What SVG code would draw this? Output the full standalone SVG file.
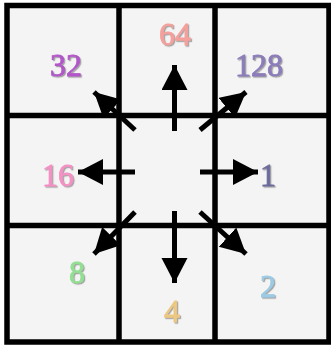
<svg xmlns="http://www.w3.org/2000/svg" width="331" height="345" viewBox="0 0 331 345">
<style>
.cell{fill:#f4f4f4;stroke:none}
.grid{stroke:#000;stroke-width:5.5;fill:none}
.lbl{font-family:"Liberation Serif","Times New Roman",serif;font-size:32px;text-anchor:middle;stroke-width:0.8;filter:url(#sh)}
.arr{stroke:#000;stroke-width:5;fill:none;marker-end:url(#ah)}
</style>
<defs>
<filter id="sh" x="-20%" y="-20%" width="150%" height="150%">
<feDropShadow dx="1.2" dy="1.2" stdDeviation="0.4" flood-color="#9a9a9a" flood-opacity="0.9"/>
</filter>
<marker id="ah" markerUnits="userSpaceOnUse" markerWidth="27" markerHeight="27" refX="25" refY="13" orient="auto" viewBox="0 0 27 27">
<path d="M0,0 L25,13 L0,26 Z" fill="#000"/>
</marker>
</defs>
<rect x="0" y="0" width="331" height="345" fill="#ffffff"/>
<rect class="cell" x="7" y="5" width="322" height="337"/>
<g id="n32"><text class="lbl" x="66" y="76" fill="#b356c9" stroke="#b356c9">32</text></g>
<g id="n64"><text class="lbl" x="175" y="45" fill="#f4a09c" stroke="#f4a09c">64</text></g>
<g id="n128"><text class="lbl" x="259" y="76" fill="#8c7cba" stroke="#8c7cba">128</text></g>
<g id="n16"><text class="lbl" x="58" y="186" fill="#f490c4" stroke="#f490c4">16</text></g>
<g id="center"></g>
<g id="n1"><text class="lbl" x="268" y="186" fill="#6c6c9c" stroke="#6c6c9c">1</text></g>
<g id="n8"><text class="lbl" x="77" y="283" fill="#92e092" stroke="#92e092">8</text></g>
<g id="n4"><text class="lbl" x="172" y="322" fill="#ecc882" stroke="#ecc882">4</text></g>
<g id="n2"><text class="lbl" x="268" y="297" fill="#9ccbe4" stroke="#9ccbe4">2</text></g>
<g id="gridlines">
<rect class="grid" x="7" y="5.5" width="322" height="336.5"/>
<line class="grid" x1="119" y1="5" x2="119" y2="342"/>
<line class="grid" x1="215" y1="5" x2="215" y2="342"/>
<line class="grid" x1="7" y1="115.5" x2="329" y2="115.5"/>
<line class="grid" x1="7" y1="225.5" x2="329" y2="225.5"/>
</g>
<g id="connectors">
<line class="arr" x1="174.5" y1="131" x2="174.5" y2="65"/>
<line class="arr" x1="174.5" y1="211" x2="174.5" y2="283"/>
<line class="arr" x1="135" y1="172" x2="78" y2="172"/>
<line class="arr" x1="200" y1="172" x2="258" y2="172"/>
<line class="arr" x1="135" y1="130" x2="94" y2="92"/>
<line class="arr" x1="200" y1="130" x2="246" y2="92"/>
<line class="arr" x1="135" y1="212" x2="94" y2="254"/>
<line class="arr" x1="200" y1="212" x2="246" y2="254"/>
</g>
</svg>
